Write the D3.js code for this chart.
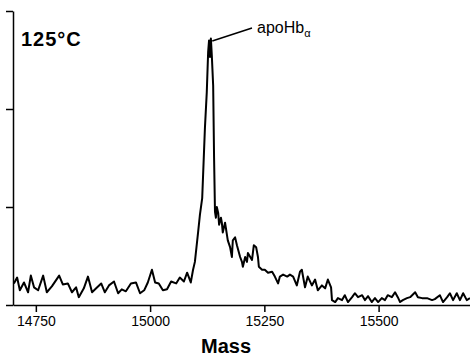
<!DOCTYPE html>
<html>
<head>
<meta charset="utf-8">
<script src="https://cdn.jsdelivr.net/npm/d3@7"></script>
<style>
  body { margin: 0; background: #fff; }
  text { font-family: "Liberation Sans", Arial, Helvetica, sans-serif; }
</style>
</head>
<body>
<div id="chart"></div>
<script>
// Mass spectrum (mass, relative intensity)
const masses = [
  14702, 14709, 14715, 14724, 14733, 14739, 14746, 14755, 14766, 14774,
  14785, 14801, 14809, 14820, 14829, 14838, 14844, 14855, 14864, 14873,
  14882, 14893, 14901, 14910, 14921, 14930, 14938, 14947, 14958, 14969,
  14978, 14987, 14995, 15004, 15011, 15019, 15028, 15037, 15046, 15057,
  15065, 15074, 15081, 15089, 15094, 15098, 15105, 15109, 15114, 15116,
  15120, 15124, 15127, 15129, 15131, 15133, 15135, 15138, 15140, 15142,
  15144, 15146, 15149, 15151, 15155, 15157, 15159, 15164, 15170, 15175,
  15179, 15181, 15186, 15190, 15197, 15201, 15203, 15208, 15212, 15214,
  15223, 15227, 15232, 15236, 15238, 15245, 15251, 15258, 15267, 15273,
  15280, 15284, 15291, 15300, 15306, 15313, 15321, 15328, 15332, 15339,
  15345, 15354, 15361, 15367, 15376, 15383, 15389, 15396, 15398, 15405,
  15411, 15420, 15426, 15433, 15442, 15448, 15455, 15464, 15470, 15477,
  15485, 15492, 15499, 15507, 15514, 15520, 15529, 15536, 15542, 15547,
  15553, 15562, 15569, 15580, 15586, 15595, 15606, 15617, 15623, 15634,
  15641, 15650, 15656, 15663, 15671, 15678, 15685, 15693, 15700
];
const intensity = [
  2.2, 2.8, 1.5, 2.3, 1.3, 3.0, 1.8, 1.5, 3.0, 1.3,
  1.9, 3.0, 2.1, 2.2, 1.3, 1.8, 0.8, 1.7, 2.9, 1.3,
  1.7, 2.2, 1.3, 2.0, 2.4, 1.2, 1.6, 1.4, 2.2, 2.3,
  1.2, 1.5, 2.3, 3.6, 2.3, 2.2, 1.5, 1.6, 2.4, 2.2,
  2.8, 2.4, 3.3, 2.3, 3.6, 4.4, 7.4, 9.2, 10.9, 13.3,
  18.1, 21.7, 25.8, 27.0, 25.3, 27.2, 25.5, 22.4, 15.0, 9.5,
  8.9, 10.0, 9.4, 8.2, 8.9, 8.4, 7.4, 8.4, 6.6, 5.9,
  4.9, 6.6, 6.9, 6.1, 4.9, 4.4, 3.9, 4.9, 4.4, 5.3,
  4.6, 6.1, 5.9, 4.9, 3.9, 3.6, 3.6, 3.3, 3.4, 2.9,
  2.2, 2.9, 3.1, 2.9, 3.1, 2.9, 2.0, 3.4, 3.6, 1.8,
  2.9, 2.0, 2.6, 1.5, 2.0, 1.7, 2.6, 1.8, 0.5, 0.3,
  0.7, 0.5, 1.0, 0.3, 0.8, 1.2, 0.8, 1.0, 0.5, 0.9,
  0.3, 0.7, 0.3, 0.7, 0.5, 1.0, 0.8, 1.3, 0.8, 0.3,
  0.5, 0.7, 0.8, 1.3, 0.8, 0.7, 0.7, 0.5, 0.6, 1.0,
  0.3, 0.8, 1.2, 0.5, 1.2, 0.5, 1.2, 0.5, 0.7
];
const xTicks = [14750, 15000, 15250, 15500];
const yTicks = [0, 10, 20, 30];

const width = 470, height = 358;
const plotLeft = 13, plotRight = 470, plotTop = 11, plotBottom = 305;

const svg = d3.select("#chart").append("svg")
  .attr("width", width)
  .attr("height", height);

const x = d3.scaleLinear().domain([14700, 15700]).range([plotLeft, plotRight]);
const y = d3.scaleLinear().domain([0, 30]).range([plotBottom, plotTop]);

const data = masses.map((m, i) => ({ m, v: intensity[i] }));

svg.append("clipPath").attr("id", "clip")
  .append("rect")
  .attr("x", plotLeft).attr("y", 0)
  .attr("width", plotRight - plotLeft).attr("height", plotBottom);

// spectrum trace
const line = d3.line().x(d => x(d.m)).y(d => y(d.v));
svg.append("path")
  .datum(data)
  .attr("clip-path", "url(#clip)")
  .attr("fill", "none")
  .attr("stroke", "#000")
  .attr("stroke-width", 2)
  .attr("stroke-linejoin", "round")
  .attr("d", line);

// axes
const xAxis = svg.append("g")
  .attr("transform", `translate(0,${plotBottom})`)
  .call(d3.axisBottom(x).tickValues(xTicks).tickSize(7).tickSizeOuter(0).tickFormat(d3.format("d")));
xAxis.selectAll("text")
  .attr("dy", "0.71em")
  .attr("y", 11)
  .style("font-size", "14px")
  .attr("fill", "#000");

svg.append("g")
  .attr("transform", `translate(${plotLeft},0)`)
  .call(d3.axisLeft(y).tickValues(yTicks).tickSize(7).tickSizeOuter(0).tickFormat(""));

svg.selectAll(".domain, .tick line")
  .attr("stroke", "#000")
  .attr("stroke-width", 1.5);

// labels
svg.append("text")
  .attr("x", 226).attr("y", 353)
  .attr("text-anchor", "middle")
  .style("font-size", "20px")
  .style("font-weight", "bold")
  .text("Mass");

svg.append("text")
  .attr("x", 21).attr("y", 46)
  .style("font-size", "20px")
  .style("font-weight", "bold")
  .style("letter-spacing", "1px")
  .text("125°C");

// peak annotation
svg.append("line")
  .attr("x1", x(15136)).attr("y1", 41)
  .attr("x2", 252).attr("y2", 28)
  .attr("stroke", "#000")
  .attr("stroke-width", 1.5);

const ann = svg.append("text")
  .attr("x", 257).attr("y", 33)
  .style("font-size", "16px");
ann.append("tspan").text("apoHb");
ann.append("tspan")
  .attr("dy", 4)
  .style("font-size", "11px")
  .text("α");
</script>
</body>
</html>
